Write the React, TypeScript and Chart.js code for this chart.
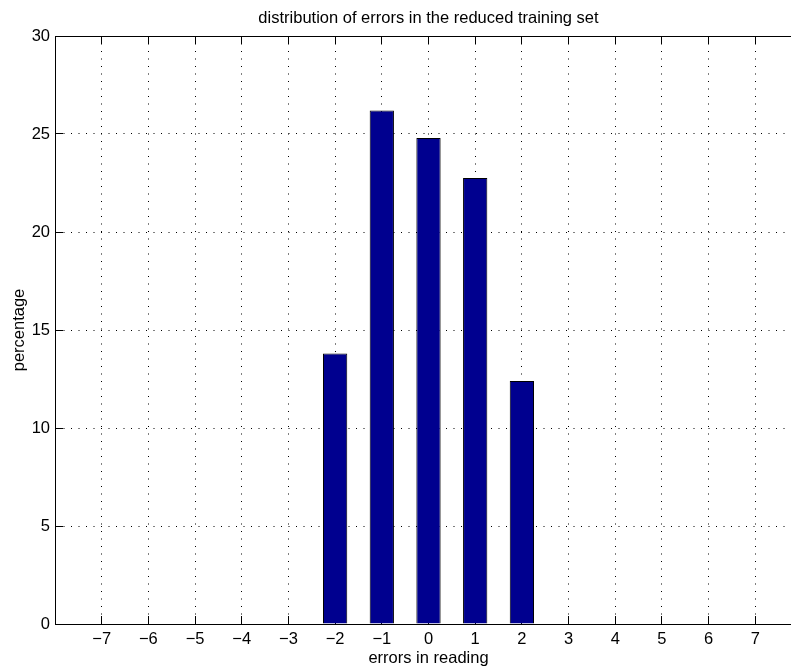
import React, { useEffect, useRef } from 'react';
import { Chart, registerables } from 'chart.js';

Chart.register(...registerables);

// ---- data ----
const errorCategories = [-7, -6, -5, -4, -3, -2, -1, 0, 1, 2, 3, 4, 5, 6, 7];
const percentages = [0, 0, 0, 0, 0, 13.8, 26.2, 24.8, 22.75, 12.4, 0, 0, 0, 0, 0];
const yTickValues = [0, 5, 10, 15, 20, 25, 30];
const titleText = 'distribution of errors in the reduced training set';
const xLabelText = 'errors in reading';
const yLabelText = 'percentage';

const FONT_FAMILY = '"Liberation Sans", Arial, Helvetica, sans-serif';
const FONT_SIZE = 16.5;
const fmt = (v: number) => (v < 0 ? '\u2212' + Math.abs(v) : String(v));
const align = (p: number) => Math.round(p - 0.5) + 0.5;

const matlabAxes = {
  id: 'matlabAxes',
  beforeDatasetsDraw(chart: any) {
    const { ctx, chartArea, scales } = chart;
    const { left, right, top, bottom } = chartArea;
    const len = 8;
    ctx.save();
    ctx.strokeStyle = '#000';
    ctx.lineWidth = 1;
    ctx.setLineDash([]);
    ctx.beginPath();
    errorCategories.forEach((v) => {
      const px = align(scales.x.getPixelForValue(v));
      ctx.moveTo(px, bottom);
      ctx.lineTo(px, bottom - len);
      ctx.moveTo(px, top);
      ctx.lineTo(px, top + len);
    });
    yTickValues.forEach((v) => {
      const py = align(scales.y.getPixelForValue(v));
      ctx.moveTo(left, py);
      ctx.lineTo(left + len, py);
      ctx.moveTo(right, py);
      ctx.lineTo(right - len, py);
    });
    ctx.stroke();
    ctx.restore();
  },
  afterDraw(chart: any) {
    const { ctx, chartArea } = chart;
    const { left, right, top, bottom } = chartArea;
    ctx.save();
    ctx.strokeStyle = '#000';
    ctx.lineWidth = 1;
    ctx.setLineDash([]);
    ctx.beginPath();
    const t = align(top);
    const r = align(right);
    ctx.moveTo(left, t);
    ctx.lineTo(right, t);
    ctx.moveTo(r, top);
    ctx.lineTo(r, bottom);
    ctx.stroke();
    ctx.restore();
  },
};

export default function App() {
  const canvasRef = useRef<HTMLCanvasElement | null>(null);

  useEffect(() => {
    if (!canvasRef.current) return;
    const font = { family: FONT_FAMILY, size: FONT_SIZE };
    const chart = new Chart(canvasRef.current, {
      type: 'bar',
      data: {
        datasets: [
          {
            data: errorCategories.map((c, i) => ({ x: c, y: percentages[i] })),
            backgroundColor: '#00008F',
            borderColor: '#000',
            borderWidth: 1,
            barPercentage: 0.52,
            categoryPercentage: 1,
          },
        ],
      },
      options: {
        responsive: false,
        animation: false,
        devicePixelRatio: 1,
        layout: { padding: 0 },
        plugins: {
          legend: { display: false },
          tooltip: { enabled: false },
          title: {
            display: true,
            text: titleText,
            color: '#000',
            font: { ...font, weight: 'normal' },
            fullSize: false,
            padding: { top: 8.6, bottom: 7.6 },
          },
        },
        scales: {
          x: {
            type: 'linear',
            min: -8,
            max: 8,
            offset: false,
            grid: { offset: false, color: '#000', lineWidth: 1, drawTicks: false },
            border: { display: true, color: '#000', width: 1, dash: [1, 6.5] },
            afterBuildTicks: (s: any) => {
              s.ticks = errorCategories.map((v) => ({ value: v }));
            },
            afterFit: (s: any) => {
              s.height = 48;
            },
            ticks: {
              color: '#000',
              font,
              padding: 6,
              autoSkip: false,
              maxRotation: 0,
              callback: (v: any) => fmt(Number(v)),
            },
            title: {
              display: true,
              text: xLabelText,
              color: '#000',
              font,
              padding: { top: 0, bottom: 3.6 },
            },
          },
          y: {
            type: 'linear',
            min: 0,
            max: 30,
            grid: { color: '#000', lineWidth: 1, drawTicks: false },
            border: { display: true, color: '#000', width: 1, dash: [1, 6.5] },
            afterBuildTicks: (s: any) => {
              s.ticks = yTickValues.map((v) => ({ value: v }));
            },
            afterFit: (s: any) => {
              s.width = 55;
            },
            ticks: {
              color: '#000',
              font,
              padding: 5,
              callback: (v: any) => fmt(Number(v)),
            },
            title: {
              display: true,
              text: yLabelText,
              color: '#000',
              font,
              padding: { top: 10, bottom: 0 },
            },
          },
        },
      } as any,
      plugins: [matlabAxes],
    });
    return () => chart.destroy();
  }, []);

  return (
    <div
      style={{
        position: 'fixed',
        left: 0,
        top: 0,
        width: 791,
        height: 672,
        overflow: 'hidden',
        background: '#fff',
      }}
    >
      <canvas
        ref={canvasRef}
        width={802}
        height={672}
        style={{ display: 'block', width: 802, height: 672 }}
      />
    </div>
  );
}
